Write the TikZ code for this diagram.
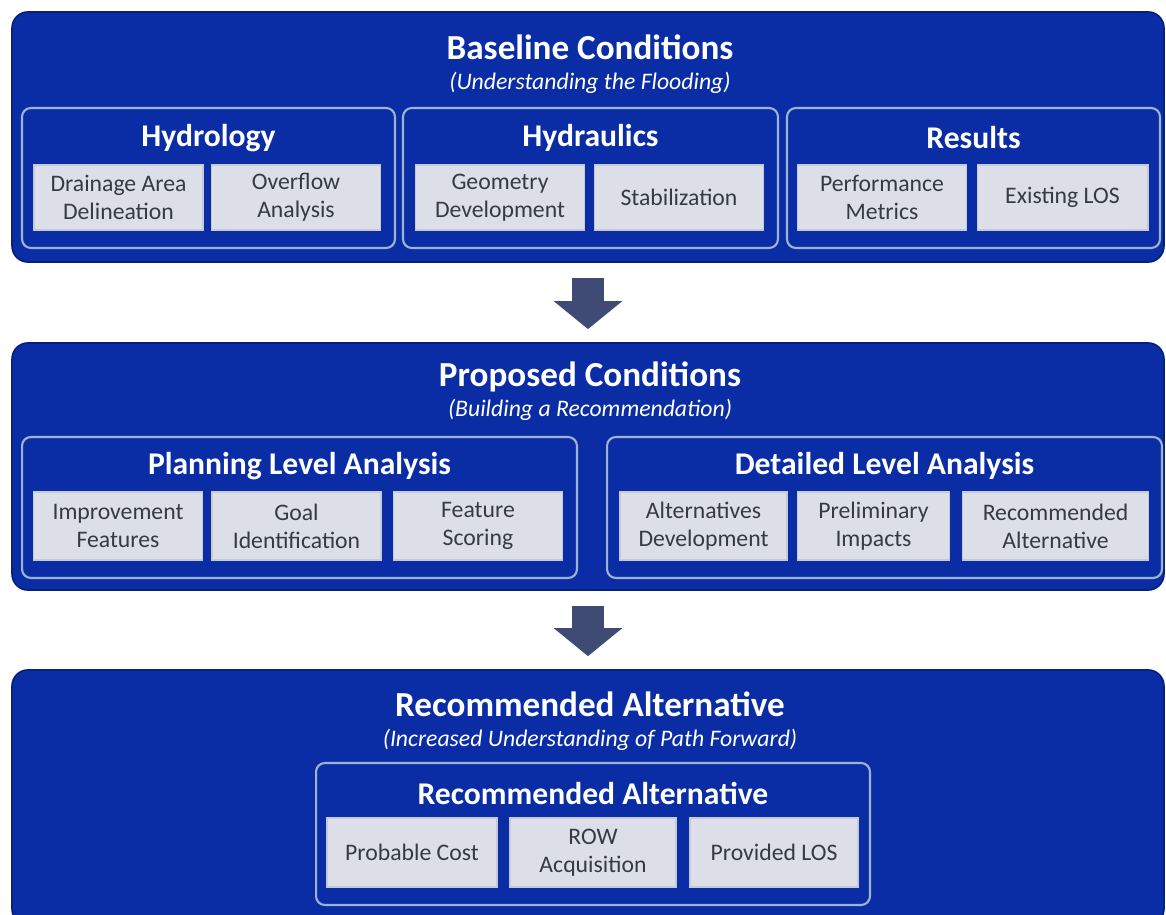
\documentclass[tikz,border=0pt]{standalone}
\usepackage{fontspec}
\setmainfont{Carlito}
\usetikzlibrary{positioning,arrows.meta}

\definecolor{panelblue}{HTML}{0A2DA6}
\definecolor{paneledge}{HTML}{06207F}
\definecolor{groupedge}{HTML}{9DB4CF}
\definecolor{taskfill}{HTML}{DCDFE8}
\definecolor{taskedge}{HTML}{C4CAD8}
\definecolor{tasktext}{HTML}{353A45}
\definecolor{arrowblue}{HTML}{3F4B75}

\begin{document}
\begin{tikzpicture}[
    x=0.02cm, y=-0.02cm,
    panel/.style={draw=paneledge, fill=panelblue, line width=1pt, rounded corners=9pt, minimum width=23.04cm, inner sep=0pt},
    group/.style={draw=groupedge, fill=panelblue, line width=1.2pt, rounded corners=5pt, inner sep=0pt},
    task/.style={draw=taskedge, fill=taskfill, text=tasktext, line width=0.6pt, align=center, inner sep=0pt,
        font=\fontsize{13.5}{16}\selectfont, minimum width=3.38cm},
    maintitle/.style={text=white, font=\fontsize{20}{22}\selectfont\bfseries},
    subtitle/.style={text=white, font=\fontsize{13.5}{15}\selectfont\itshape},
    grouptitle/.style={text=white, font=\fontsize{18}{20}\selectfont\bfseries},
    bigarrow/.style={draw=arrowblue, line width=0.64cm, -{Triangle[width=1.34cm,length=0.56cm]}, shorten <=0.3cm, shorten >=0.26cm}
]
    \useasboundingbox[fill=white] (0,0) rectangle (1166,915);

    % baseline conditions
    \node[panel, minimum height=5cm] (base) at (588,137) {};
    \node[maintitle] (baseT) at (590,47) {Baseline Conditions};
    \node[subtitle] (baseS) at (590,83) {(Understanding the Flooding)};

    \node[group, minimum width=7.46cm, minimum height=2.8cm] (hydro) at (208.5,178) {};
    \node[group, minimum width=7.5cm, minimum height=2.8cm] (hydra) at (590.5,178) {};
    \node[group, minimum width=7.46cm, minimum height=2.8cm] (results) at (973.5,178) {};
    \node[grouptitle] at (208.5,138) {Hydrology};
    \node[grouptitle] at (590.5,138) {Hydraulics};
    \node[grouptitle] at (973.5,138) {Results};

    \node[task, minimum height=1.3cm] (drain) at (118.5,197.5) {Drainage Area\\Delineation};
    \node[task, minimum height=1.3cm] (overflow) at (296,197.5) {Overflow\\Analysis};
    \node[task, minimum height=1.3cm] (geometry) at (500,197.5) {Geometry\\Development};
    \node[task, minimum height=1.3cm] (stab) at (679,197.5) {Stabilization};
    \node[task, minimum height=1.3cm] (perf) at (882,197.5) {Performance\\Metrics};
    \node[task, minimum height=1.3cm, minimum width=3.42cm] (existing) at (1062.5,197.5) {Existing LOS};

    % proposed conditions
    \node[panel, minimum height=4.94cm] (prop) at (588,466.5) {};
    \node[maintitle] (propT) at (590,377) {Proposed Conditions};
    \node[subtitle] (propS) at (590,410) {(Building a Recommendation)};

    \node[group, minimum width=11.1cm, minimum height=2.82cm] (planning) at (299.5,507.5) {};
    \node[group, minimum width=11.1cm, minimum height=2.82cm] (detailed) at (884.5,507.5) {};
    \node[grouptitle] at (299.5,466) {Planning Level Analysis};
    \node[grouptitle] at (884.5,466) {Detailed Level Analysis};

    \node[task, minimum height=1.36cm] (improve) at (118,526) {Improvement\\Features};
    \node[task, minimum height=1.36cm] (goal) at (296.5,526) {Goal\\Identification};
    \node[task, minimum height=1.36cm] (feature) at (478,526) {Feature\\Scoring};
    \node[task, minimum height=1.36cm, minimum width=3.34cm] (altdev) at (703.5,526) {Alternatives\\Development};
    \node[task, minimum height=1.36cm, minimum width=3.04cm] (prelim) at (873.5,526) {Preliminary\\Impacts};
    \node[task, minimum height=1.36cm, minimum width=3.72cm] (recalt) at (1055.5,526) {Recommended\\Alternative};

    % recommended alternative
    \node[panel, minimum height=5.1cm] (rec) at (588,797.5) {};
    \node[maintitle] (recT) at (590,704) {Recommended Alternative};
    \node[subtitle] (recS) at (590,740) {(Increased Understanding of Path Forward)};

    \node[group, minimum width=11.08cm, minimum height=2.84cm] (recgroup) at (593,834) {};
    \node[grouptitle] at (593,793) {Recommended Alternative};

    \node[task, minimum height=1.38cm, minimum width=3.4cm] (cost) at (412,852.5) {Probable Cost};
    \node[task, minimum height=1.38cm, minimum width=3.32cm] (row) at (593,852.5) {ROW\\Acquisition};
    \node[task, minimum height=1.38cm, minimum width=3.36cm] (provided) at (774,852.5) {Provided LOS};

    \draw[bigarrow] (base) -- (prop);
    \draw[bigarrow] (prop) -- (rec);
\end{tikzpicture}
\end{document}
